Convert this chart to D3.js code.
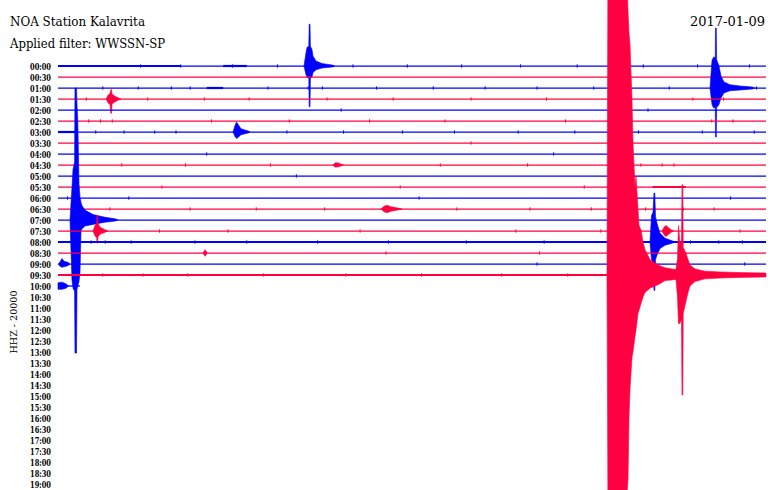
<!DOCTYPE html>
<html>
<head>
<meta charset="utf-8">
<script src="https://cdn.jsdelivr.net/npm/d3@7"></script>
<style>
html,body{margin:0;padding:0;background:#fff;}
svg{display:block;}
</style>
</head>
<body>
<svg id="chart" width="770" height="490"></svg>
<script>
// ---------------- DATA ----------------
const titleText = "NOA Station Kalavrita";
const filterText = "Applied filter: WWSSN-SP";
const dateText = "2017-01-09";
const channelText = "HHZ - 20000";

const timeLabels = ["00:00","00:30","01:00","01:30","02:00","02:30","03:00","03:30","04:00","04:30",
  "05:00","05:30","06:00","06:30","07:00","07:30","08:00","08:30","09:00","09:30",
  "10:00","10:30","11:00","11:30","12:00","12:30","13:00","13:30","14:00","14:30",
  "15:00","15:30","16:00","16:30","17:00","17:30","18:00","18:30","19:00"];

// minutes covered by each recorded trace row (row index = position in timeLabels)
const rowSpans = [[0,30],[0,30],[0,30],[0,30],[0,30],[0,30],[0,30],[0,30],[0,30],[0,30],
  [0,30],[0,30],[0,30],[0,30],[0,30],[0,30],[0,30],[0,30],[0,30],[0,30],[0,0.93]];

// denser-noise stretches [row, fromMinute, toMinute]
const noisySegments = [[0,0,5.2],[0,7.0,8.0],[2,6.3,7.0],[6,0,0.72],[11,25.2,26.6],[16,0,30],[19,0,30],[20,0,0.35]];

// small noise spikes per row (minutes)
const noiseTicks = [
  [0,[3.5,5.2,7.4,9.3,12.5,14.8,17.1,19.6,22.0,24.8,27.1,29.3]],
  [2,[1.9,3.4,4.8,5.6,8.9,10.6,11.2,13.5,15.9,18.1,20.3,22.7,25.9,28.4,29.6]],
  [3,[1.2,3.8,6.2,8.1,11.4,14.2,17.5,20.7,23.6,26.9,28.2]],
  [4,[12.0,25.0]],
  [5,[1.3,1.8,2.3,6.5,9.8,13.2,16.4,21.5,27.7,28.6]],
  [6,[1.6,2.8,4.1,5.0,9.7,12.1,14.6,16.8,19.5,21.9,24.6,27.3,29.5]],
  [7,[17.5]],
  [8,[6.3,21.0]],
  [9,[2.7,5.4,9.0,11.8,16.2,19.9,24.7,25.6,26.1]],
  [10,[10.1]],
  [11,[4.4,14.5,22.3]],
  [12,[0.4,3.0,15.3,24.4,28.5]],
  [13,[2.2,5.6,8.4,11.3,16.9,20.0,22.6,24.9,26.5,27.8]],
  [15,[4.3,7.2,12.8,19.4,23.0,28.9]],
  [16,[1.4,2.0,3.1,5.8,8.0,11.0,14.0,17.3,20.6,23.9,26.8,28.0,29.0]],
  [17,[6.2,13.9,20.4]],
  [18,[0.2,20.3,29.1]],
  [19,[1.9,3.6,5.5,8.7,12.2,15.4,18.8,21.6]]
];

// event envelopes: [minute, amplitude up (rows), amplitude down (rows)]
const quakeA = [[0.508,0,0],[0.593,3,5.5],[0.636,4.6,6.2],[0.678,5.0,6.4],[0.703,5.3,6.4],[0.720,12,12.1],
  [0.784,12,12.1],[0.805,10.5,6.3],[0.839,9,6],[0.890,3.3,5.6],[0.932,2.1,4.8],[0.975,1.6,1.0],[1.017,1.3,0.8],
  [1.144,0.9,0.55],[1.483,0.5,0.4],[1.992,0.25,0.2],[2.415,0.12,0.1],[2.542,0,0]];
const quakeB = [[10.424,0,0],[10.508,1.2,0.8],[10.551,1.7,1.0],[10.627,1.8,1.1],[10.644,3.8,3.7],[10.678,3.8,3.7],
  [10.695,1.8,1.1],[10.763,1.5,1.0],[10.805,0.9,0.6],[10.932,0.45,0.35],[11.186,0.22,0.18],[11.61,0.1,0.1],[11.737,0,0]];
const quakeC = [[27.627,0,0],[27.712,2.5,1.5],[27.775,2.8,1.8],[27.852,2.8,1.8],[27.86,5.45,4.45],[27.894,5.45,4.45],
  [27.907,2.6,1.8],[28.008,2.0,1.5],[28.093,1.1,0.9],[28.22,0.55,0.45],[28.475,0.3,0.25],[28.898,0.18,0.18],[29.407,0.1,0.1],[29.534,0,0]];
const quakeD = [[7.415,0,0],[7.5,0.6,0.4],[7.564,0.9,0.6],[7.627,0.7,0.5],[7.754,0.3,0.25],[8.051,0.1,0.1],[8.136,0,0]];
const quakeE = [[2.034,0,0],[2.119,0.35,0.35],[2.203,0.5,0.5],[2.237,0.85,1.3],[2.271,0.85,1.3],[2.288,0.45,0.45],
  [2.415,0.25,0.25],[2.542,0.12,0.12],[2.669,0,0]];
const quakeF = [[1.483,0,0],[1.568,0.5,0.45],[1.636,0.7,0.6],[1.653,1.45,1.1],[1.678,1.45,1.1],[1.695,0.7,0.55],
  [1.78,0.35,0.3],[1.992,0.12,0.12],[2.119,0,0]];
const quakeG = [[13.686,0,0],[13.814,0.25,0.25],[13.941,0.35,0.35],[14.11,0.2,0.2],[14.407,0.08,0.08],[14.576,0,0]];
const quakeH = [[11.65,0,0],[11.73,0.18,0.18],[11.85,0.2,0.18],[11.98,0.1,0.1],[12.1,0,0]];
const quakeI = [[23.263,0,0],[23.30,27,20],[24.11,27,20],[24.153,24,18.6],[24.195,22,13],[24.237,21,10.4],
  [24.322,16,7.5],[24.364,12,7],[24.449,8,5.6],[24.492,9,5],[24.576,6,3.5],[24.62,4.5,3.2],[24.703,4.1,2.6],[24.788,3.0,2],
  [24.873,2.3,1.6],[25.085,1.4,1.2],[25.297,1.1,1.0],[25.508,0.85,0.8],[25.72,0.65,0.5],[26.017,0.55,0.45],
  [26.186,0.5,0.4],[26.25,1.5,2],[26.292,4.5,4.4],[26.35,3.0,4.4],[26.419,3.0,4.0],[26.441,8.2,10.9],[26.475,8.2,10.9],
  [26.492,2.5,3.5],[26.61,2.0,2.4],[26.695,1.4,1.6],[26.78,0.9,1.0],[26.992,0.55,0.6],[27.415,0.35,0.35],[28.05,0.28,0.28],[28.898,0.22,0.22],[30,0.18,0.18]];
const quakeK = [[25.085,0,0],[25.148,2.4,1.6],[25.212,2.7,2],[25.254,4.45,4.4],[25.288,4.45,4.4],[25.318,2.3,1.6],
  [25.381,1.7,1.2],[25.508,0.8,0.6],[25.72,0.35,0.3],[26.017,0.12,0.12],[26.144,0,0]];
const quakeL = [[25.593,0,0],[25.678,0.35,0.35],[25.763,0.5,0.5],[25.847,0.35,0.35],[25.975,0.12,0.12],[26.1,0,0]];
const blipM = [[0.02,0,0],[0.085,0.2,0.2],[0.17,0.5,0.3],[0.254,0.25,0.25],[0.424,0.15,0.15],[0.5,0,0]];
const blipN = [[0.0,0.3,0.3],[0.17,0.35,0.3],[0.34,0.2,0.2],[0.45,0,0]];
const blipO = [[6.15,0,0],[6.23,0.3,0.3],[6.33,0,0]];

const events = [
  {row:14, env:quakeA},{row:0, env:quakeB},{row:2, env:quakeC},{row:6, env:quakeD},
  {row:3, env:quakeE},{row:15, env:quakeF},{row:13, env:quakeG},{row:9, env:quakeH},
  {row:19, env:quakeI},{row:16, env:quakeK},{row:15, env:quakeL},{row:18, env:blipM},
  {row:20, env:blipN},{row:17, env:blipO}
];

// ---------------- DRAW ----------------
const W = 770, H = 490;
const BLUE = "#0000ff", RED = "#ff0040";
const colorOf = r => (r % 2 === 0 ? BLUE : RED);

const svg = d3.select("#chart");
svg.append("rect").attr("width", W).attr("height", H).attr("fill", "#fff");

const x = d3.scaleLinear().domain([0, 30]).range([58, 766]);
const y = d3.scaleLinear().domain([0, timeLabels.length - 1]).range([66, 484]);
const yLab = d3.scalePoint().domain(timeLabels).range([66, 484]);

const serif = "'DejaVu Serif', 'Liberation Serif', serif";

svg.append("text").attr("x", 10).attr("y", 26).attr("font-family", serif).attr("font-size", 12)
  .attr("fill", "#000").attr("textLength", 135).attr("lengthAdjust", "spacingAndGlyphs").text(titleText);
svg.append("text").attr("x", 10).attr("y", 48).attr("font-family", serif).attr("font-size", 12)
  .attr("fill", "#000").attr("textLength", 155).attr("lengthAdjust", "spacingAndGlyphs").text(filterText);
svg.append("text").attr("x", 690).attr("y", 26).attr("font-family", serif).attr("font-size", 12)
  .attr("fill", "#000").attr("textLength", 75).attr("lengthAdjust", "spacingAndGlyphs").text(dateText);

// time axis
const axis = svg.append("g").attr("transform", "translate(51,0)")
  .call(d3.axisLeft(yLab).tickSize(0).tickPadding(0));
axis.select(".domain").remove();
axis.selectAll("text")
  .attr("font-family", serif).attr("font-size", 8.6).attr("font-weight", "bold")
  .attr("fill", "#000").attr("dy", "0.36em")
  .attr("textLength", 21).attr("lengthAdjust", "spacingAndGlyphs");

svg.append("text").attr("transform", "translate(16.5,322) rotate(-90)")
  .attr("text-anchor", "middle").attr("font-family", serif).attr("font-size", 9)
  .attr("fill", "#000").attr("textLength", 63).attr("lengthAdjust", "spacingAndGlyphs").text(channelText);

const traces = svg.append("g");
const area = row => d3.area()
  .x(d => x(d[0]))
  .y1(d => y(row - d[1]))
  .y0(d => y(row + d[2]));

rowSpans.forEach((span, r) => {
  const g = traces.append("g");
  const c = colorOf(r);
  g.append("line").attr("x1", x(span[0])).attr("x2", x(span[1]))
    .attr("y1", y(r)).attr("y2", y(r)).attr("stroke", c).attr("stroke-width", 1.25);
  noisySegments.filter(s => s[0] === r).forEach(s => {
    g.append("line").attr("x1", x(s[1])).attr("x2", x(s[2]))
      .attr("y1", y(r)).attr("y2", y(r)).attr("stroke", c).attr("stroke-width", 2.2);
  });
  noiseTicks.filter(t => t[0] === r).forEach(t => {
    t[1].forEach(m => {
      g.append("line").attr("x1", x(m)).attr("x2", x(m))
        .attr("y1", y(r - 0.15)).attr("y2", y(r + 0.15)).attr("stroke", c).attr("stroke-width", 1);
    });
  });
  events.filter(e => e.row === r).forEach(e => {
    g.append("path").attr("d", area(r)(e.env)).attr("fill", c)
      .attr("stroke", c).attr("stroke-width", 0.6).attr("stroke-linejoin", "round");
  });
});
</script>
</body>
</html>
